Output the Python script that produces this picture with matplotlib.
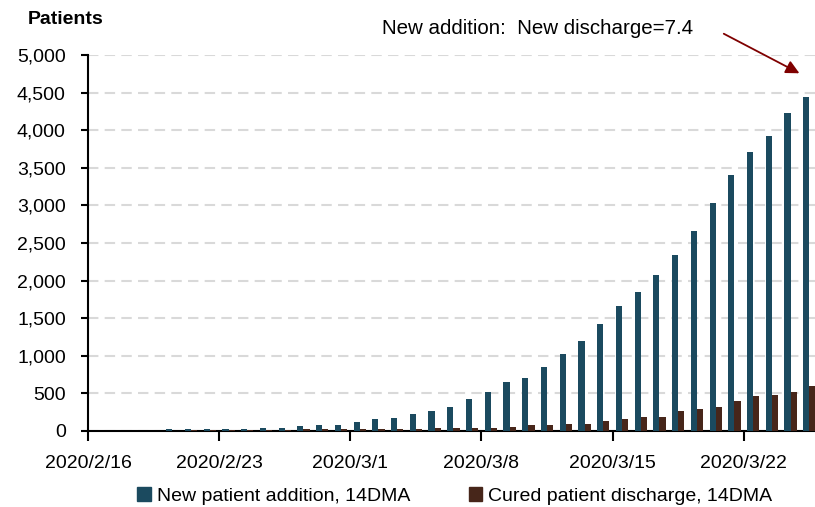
import numpy as np
import matplotlib
matplotlib.use("Agg")
import matplotlib.pyplot as plt
from matplotlib.patches import Patch

plt.rcParams['font.family'] = ['Liberation Sans', 'DejaVu Sans']

# daily values from 2020/2/16 to 2020/3/25
new_addition = [0, 0, 0, 0, 20, 27, 27, 27, 27, 40, 43, 60, 73, 73,
                113, 153, 176, 229, 269, 322, 419, 512, 645, 702,
                854, 1029, 1200, 1428, 1658, 1847, 2075, 2343, 2665, 3028,
                3410, 3716, 3920, 4226, 4438]
cured_discharge = [0, 0, 0, 0, 0, 15, 15, 15, 18, 18, 18, 20, 20, 23,
                   23, 23, 23, 23, 40, 40, 40, 40, 58, 76,
                   76, 98, 98, 138, 156, 191, 191, 268, 287, 324,
                   402, 459, 477, 515, 592]
tick_days = [0, 7, 14, 21, 28, 35]
tick_labels = ['2020/2/16', '2020/2/23', '2020/3/1', '2020/3/8', '2020/3/15', '2020/3/22']
series_names = ['New patient addition, 14DMA', 'Cured patient discharge, 14DMA']
colors = ['#1b4a5f', '#47261a']

days = np.arange(len(new_addition))
w = 0.33

fig = plt.figure(figsize=(8.15, 5.07), dpi=100)
ax = fig.add_axes([0.108, 0.150, 0.892, 0.7415])

ax.bar(days + 0.5 - w / 2, new_addition, width=w, color=colors[0], zorder=3)
ax.bar(days + 0.5 + w / 2, cured_discharge, width=w, color=colors[1], zorder=3)

ax.set_xlim(0, 38.8)
ax.set_ylim(0, 5000)
ax.set_yticks(np.arange(0, 5001, 500))
ax.set_yticklabels([f'{v:,}' for v in range(0, 5001, 500)])
ax.set_xticks(tick_days)
ax.set_xticklabels(tick_labels)

ax.yaxis.grid(True, color='#d9d9d9', linestyle=(0, (5, 3)), linewidth=1.5, zorder=0)
for s in ['top', 'right']:
    ax.spines[s].set_visible(False)
for s in ['left', 'bottom']:
    ax.spines[s].set_linewidth(1.5)
ax.tick_params(axis='y', length=5, width=1.5, labelsize=14, pad=11)
ax.tick_params(axis='x', length=7, width=1.5, labelsize=14, pad=10)

fig.text(0.034, 0.961, 'Patients', fontsize=14, fontweight='bold', va='center')
fig.text(0.6595, 0.944, 'New addition:  New discharge=7.4', fontsize=14.8, ha='center', va='center')
ax.annotate('', xy=(38.1, 4740), xytext=(33.8, 5300), annotation_clip=False,
            arrowprops=dict(arrowstyle='-|>,head_length=0.8,head_width=0.4',
                            color='#7f0000', lw=1.3))

handles = [Patch(color=c) for c in colors]
fig.legend(handles, series_names, loc='lower center', bbox_to_anchor=(0.558, -0.03),
           ncol=2, frameon=False, fontsize=14, handlelength=0.7, handleheight=0.7,
           handletextpad=0.3, columnspacing=3.0)

fig.savefig('out.png', dpi=100)
